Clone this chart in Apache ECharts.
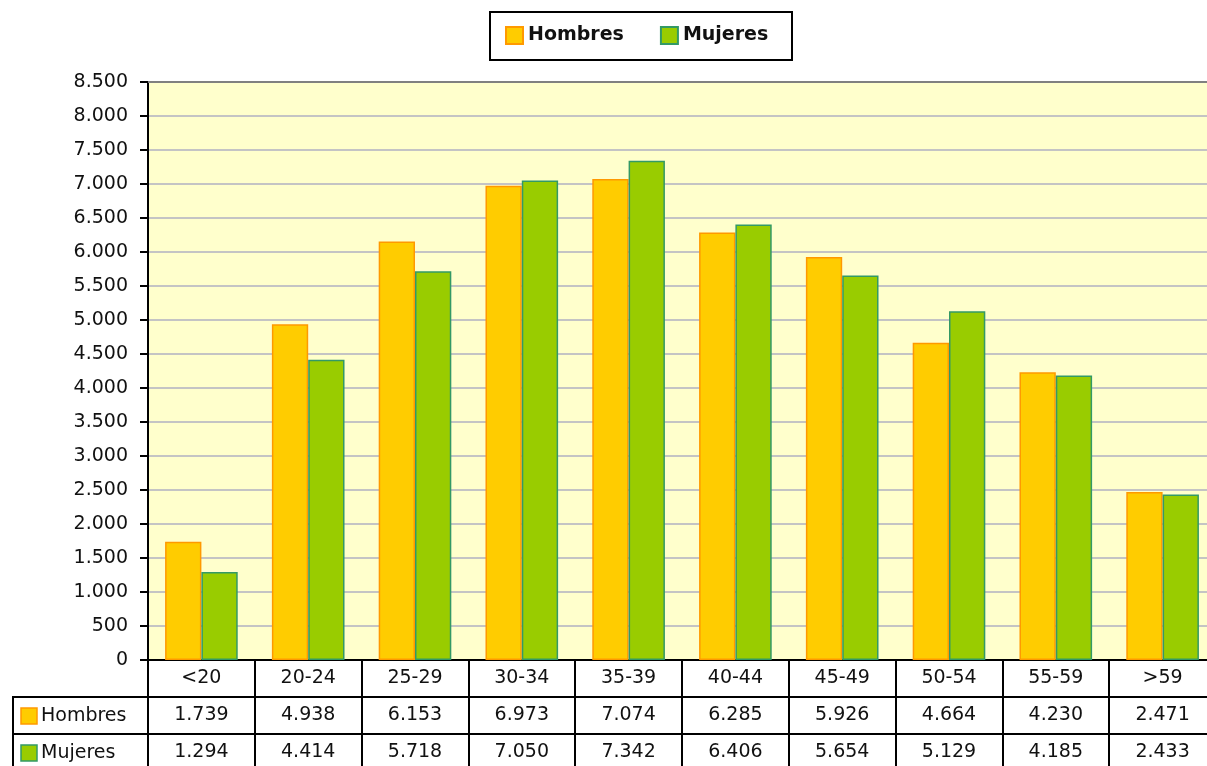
<!DOCTYPE html>
<html>
<head>
<meta charset="utf-8">
<script src="https://cdn.jsdelivr.net/npm/echarts@6/dist/echarts.min.js"></script>
<style>
html,body{margin:0;padding:0;background:#fff;overflow:hidden;width:1207px;height:766px;}
#chart{width:1216px;height:766px;}
</style>
</head>
<body>
<div id="chart"></div>
<script>
const categories = ['<20','20-24','25-29','30-34','35-39','40-44','45-49','50-54','55-59','>59'];
const seriesNames = ['Hombres','Mujeres'];
const hombres = [1739,4938,6153,6973,7074,6285,5926,4664,4230,2471];
const mujeres = [1294,4414,5718,7050,7342,6406,5654,5129,4185,2433];
const yMin = 0, yMax = 8500, yInterval = 500;

const FONT = 'DejaVu Sans';
const colHFill = '#FFCC00', colHBorder = '#FF9900';
const colMFill = '#99CC00', colMBorder = '#339966';

function fmt(v){ return String(v).replace(/\B(?=(\d{3})+(?!\d))/g,'.'); }

const chart = echarts.init(document.getElementById('chart'));

const rowAxis = (data, offset) => ({
  type:'category', gridIndex:0, position:'bottom', offset: offset,
  data: data,
  axisLine:{show:true, lineStyle:{color:'#000', width:2}},
  axisTick:{show:true, length:37, interval:0, lineStyle:{color:'#000', width:2}},
  axisLabel:{show:true, interval:0, margin:9, fontFamily:FONT, fontSize:19, color:'#111'},
  splitLine:{show:false}
});

const option = {
  backgroundColor:'#fff',
  animation:false,
  textStyle:{fontFamily:FONT},
  grid:{left:148, right:0, top:82, height:578, show:true, backgroundColor:'#FFFFCC', borderWidth:0, containLabel:false},
  legend:{
    left:505, top:26, padding:0, itemGap:36, itemWidth:17, itemHeight:17, icon:'rect',
    data: seriesNames,
    textStyle:{fontFamily:FONT, fontSize:19, fontWeight:'bold', color:'#111'}
  },
  xAxis:[
    rowAxis(categories, 0),
    rowAxis(hombres.map(fmt), 37),
    rowAxis(mujeres.map(fmt), 74),
    {type:'category', gridIndex:0, position:'top', data:categories,
     axisLine:{show:true, lineStyle:{color:'#808080', width:2}},
     axisTick:{show:false}, axisLabel:{show:false}, splitLine:{show:false}}
  ],
  yAxis:{
    type:'value', min:yMin, max:yMax, interval:yInterval,
    axisLine:{show:true, lineStyle:{color:'#000', width:2}},
    axisTick:{show:true, length:8, lineStyle:{color:'#000', width:2}},
    axisLabel:{margin:20, fontFamily:FONT, fontSize:19, color:'#111', formatter:(v)=>fmt(v)},
    splitLine:{show:true, lineStyle:{color:'#C4C4C4', width:2}}
  },
  series:[
    {name:seriesNames[0], type:'bar', xAxisIndex:0, data:hombres, barGap:'0%', barCategoryGap:'32%',
     itemStyle:{color:colHFill, borderColor:colHBorder, borderWidth:1.5}},
    {name:seriesNames[1], type:'bar', xAxisIndex:0, data:mujeres, barGap:'0%', barCategoryGap:'32%',
     itemStyle:{color:colMFill, borderColor:colMBorder, borderWidth:1.5}}
  ],
  graphic:[
    {type:'rect', shape:{x:490, y:12, width:302, height:48}, style:{fill:'none', stroke:'#000', lineWidth:2}, z:10},
    {type:'rect', shape:{x:13, y:697, width:135, height:80}, style:{fill:'none', stroke:'#000', lineWidth:2}, z:10},
    {type:'line', shape:{x1:13, y1:734, x2:148, y2:734}, style:{stroke:'#000', lineWidth:2}, z:10},
    {type:'rect', shape:{x:21, y:708, width:16, height:16}, style:{fill:colHFill, stroke:colHBorder, lineWidth:1.5}, z:10},
    {type:'text', x:41, y:716, style:{text:seriesNames[0], fontFamily:FONT, fontSize:19, fill:'#111', verticalAlign:'middle'}, z:10},
    {type:'rect', shape:{x:21, y:745, width:16, height:16}, style:{fill:colMFill, stroke:colMBorder, lineWidth:1.5}, z:10},
    {type:'text', x:41, y:753, style:{text:seriesNames[1], fontFamily:FONT, fontSize:19, fill:'#111', verticalAlign:'middle'}, z:10}
  ]
};
chart.setOption(option);
</script>
</body>
</html>
